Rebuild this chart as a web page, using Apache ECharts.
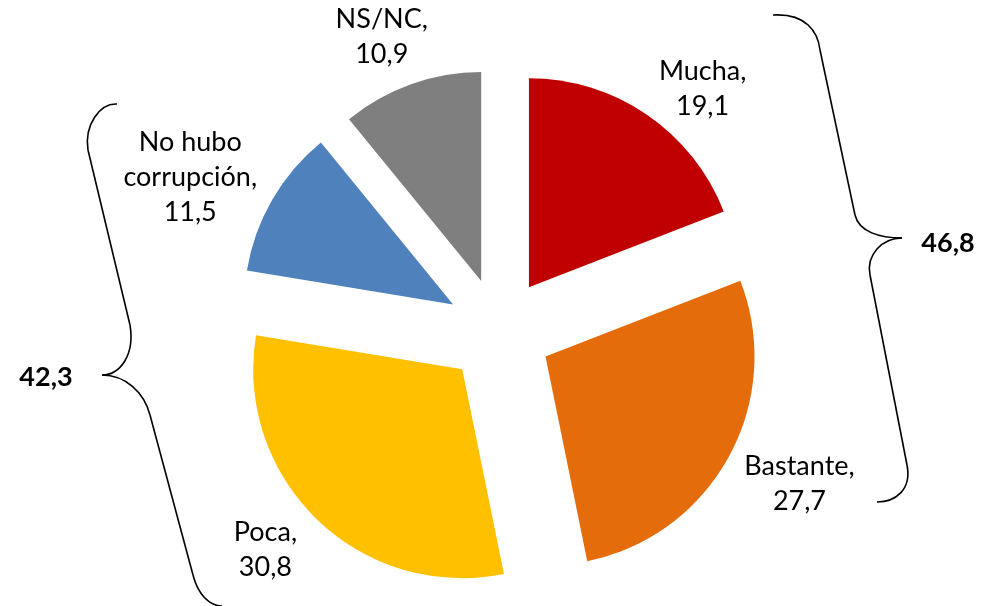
<!DOCTYPE html>
<html lang="es">
<head>
<meta charset="UTF-8">
<title>Percepción de corrupción</title>
<script src="https://cdn.jsdelivr.net/npm/echarts@6/dist/echarts.min.js"></script>
<style>
html, body { margin: 0; padding: 0; background: #fff; }
#chart { width: 992px; height: 606px; }
</style>
</head>
<body>
<div id="chart"></div>
<script>
// datos
const categorias = ['Mucha', 'Bastante', 'Poca', 'No hubo corrupción', 'NS/NC'];
const valores = [19.1, 27.7, 30.8, 11.5, 10.9];
const colores = ['#C00000', '#E46C0A', '#FFC000', '#4F81BD', '#7F7F7F'];
// grupos de las llaves: Mucha+Bastante y Poca+No hubo
const grupoDerecha = [0, 1];
const grupoIzquierda = [2, 3];
// pequeño ajuste de cada etiqueta (px)
const ajusteEtiqueta = [[22, 23], [8, -7], [-15, -8], [-4, 23], [-11, 4]];

const CENTRO = [499, 331];
const RADIO = 209;
const DESPLAZ = 53;
const HUECO = 6;
const FUENTE = 'Lato, "Noto Sans", sans-serif';
const TAM = 27, INTERLINEA = 35;

const fmt = v => v.toFixed(1).replace('.', ',');
const total = valores.reduce((a, b) => a + b, 0);
const medios = [];
let acum = 0;
valores.forEach(v => { medios.push((acum + v / 2) / total * 2 * Math.PI); acum += v; });
const suma = idx => idx.reduce((a, i) => a + valores[i], 0);

// etiquetas fuera de cada porción, a partir del ángulo medio
const ctx = document.createElement('canvas').getContext('2d');
ctx.font = TAM + 'px ' + FUENTE;
const etiquetas = categorias.map((c, i) => {
  const nombre = c.length > 10 ? c.replace(/ (?=\S+$)/, '\n') : c;
  const texto = nombre + ',\n' + fmt(valores[i]);
  const lineas = texto.split('\n');
  const w = Math.max.apply(null, lineas.map(l => ctx.measureText(l).width));
  const h = lineas.length * INTERLINEA;
  const ux = Math.sin(medios[i]), uy = -Math.cos(medios[i]);
  const rho = RADIO + DESPLAZ + HUECO + Math.abs(ux) * w / 2 + Math.abs(uy) * h / 2;
  return {
    type: 'text',
    x: CENTRO[0] + rho * ux + ajusteEtiqueta[i][0],
    y: CENTRO[1] + rho * uy + ajusteEtiqueta[i][1],
    style: { text: texto, font: TAM + 'px ' + FUENTE, lineHeight: INTERLINEA, fill: '#000',
      textAlign: 'center', textVerticalAlign: 'middle', align: 'center', verticalAlign: 'middle' }
  };
});

// llaves (decorado): tramos rectos y curvas
function llave(tramos) {
  return tramos.map(t => t.length === 4
    ? { type: 'line', shape: { x1: t[0], y1: t[1], x2: t[2], y2: t[3] }, style: { stroke: '#000', lineWidth: 1.6 } }
    : { type: 'bezierCurve', shape: { x1: t[0], y1: t[1], cpx1: t[2], cpy1: t[3], cpx2: t[4], cpy2: t[5], x2: t[6], y2: t[7] }, style: { stroke: '#000', lineWidth: 1.6, fill: null } });
}
const llaveDer = llave([
  [773, 15, 806, 13, 818, 32, 820, 50],
  [820, 50, 855, 215],
  [855, 215, 859, 232, 880, 238, 902, 238],
  [902, 238, 882, 238, 866, 255, 870, 275],
  [870, 275, 907, 465],
  [907, 465, 912, 490, 895, 502, 877, 502]
]);
const llaveIzq = llave([
  [117, 104, 100, 103, 84, 125, 88, 150],
  [88, 150, 130, 325],
  [130, 325, 135, 355, 120, 375, 102, 375],
  [102, 375, 125, 375, 144, 392, 150, 415],
  [150, 415, 193, 575],
  [193, 575, 198, 595, 210, 606, 222, 606]
]);

const totalTexto = (x, y, v) => ({ type: 'text', x: x, y: y,
  style: { text: fmt(v), font: 'bold ' + TAM + 'px ' + FUENTE, fill: '#000',
    textAlign: 'center', textVerticalAlign: 'middle', align: 'center', verticalAlign: 'middle' } });

const chart = echarts.init(document.getElementById('chart'));
chart.setOption({
  animation: false,
  series: [{
    type: 'pie',
    center: CENTRO,
    radius: RADIO,
    startAngle: 90,
    clockwise: true,
    selectedMode: 'multiple',
    selectedOffset: DESPLAZ,
    silent: true,
    label: { show: false },
    labelLine: { show: false },
    data: categorias.map((c, i) => ({
      name: c, value: valores[i], selected: true,
      itemStyle: { color: colores[i] }
    }))
  }],
  graphic: [].concat(llaveDer, llaveIzq, etiquetas, [
    totalTexto(948, 243, suma(grupoDerecha)),
    totalTexto(46, 377, suma(grupoIzquierda))
  ])
});
</script>
</body>
</html>
